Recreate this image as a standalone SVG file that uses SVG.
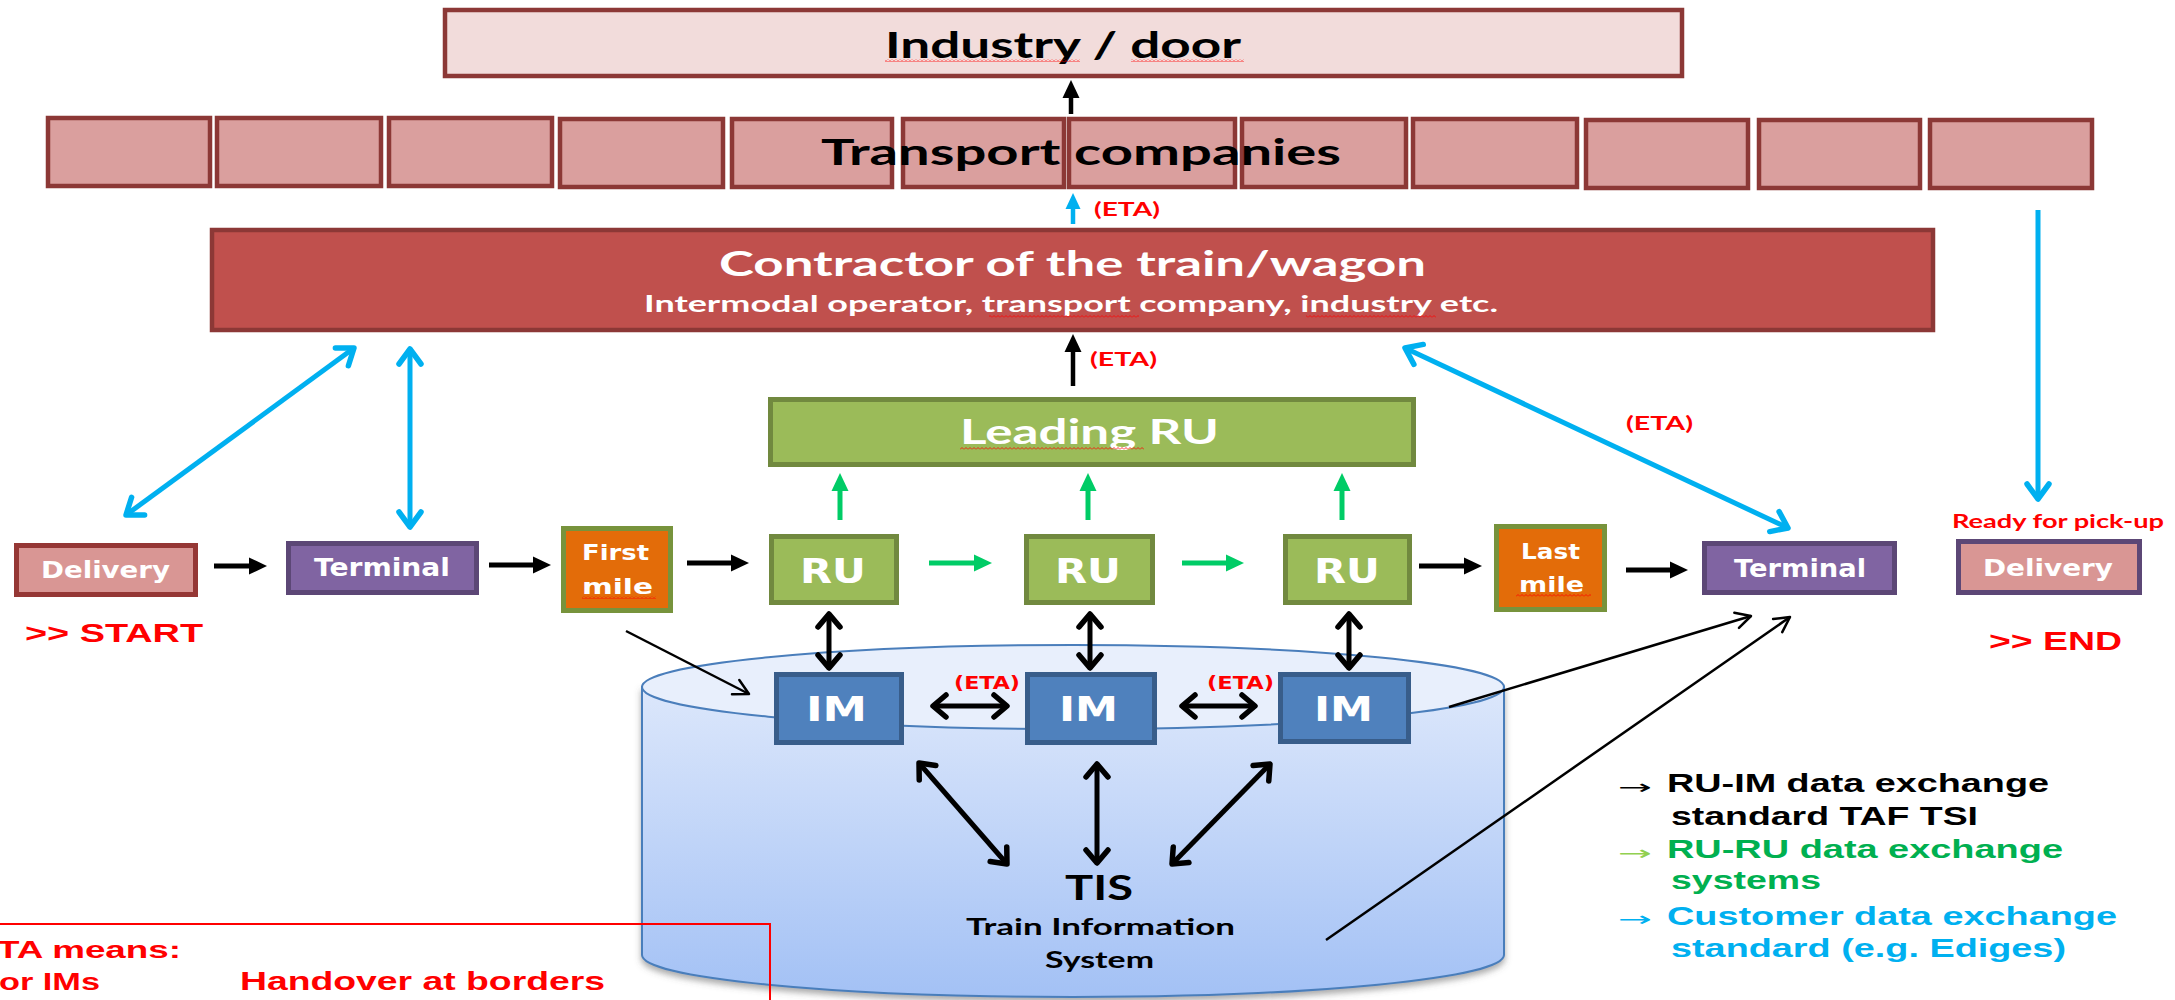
<svg xmlns="http://www.w3.org/2000/svg" width="2175" height="1000" viewBox="0 0 2175 1000">
<style>
.cal{font-family:Lato,"Open Sans","Liberation Sans",sans-serif;font-weight:bold}
.ver{font-family:"DejaVu Sans",Verdana,sans-serif;font-weight:bold}
.ari{font-family:"Liberation Sans",Arial,sans-serif;font-weight:bold}
.w{fill:#fff}
.red{fill:#FF0000}
.tp{fill:#DA9F9E;stroke:#8C3836;stroke-width:4.5}
.ru{fill:#9BBB59;stroke:#71893F;stroke-width:5}
.mile{fill:#E36C09;stroke:#77933C;stroke-width:5}
.term{fill:#8064A2;stroke:#5C4776;stroke-width:5}
.im{fill:#4F81BD;stroke:#385D8A;stroke-width:5}
.sq{fill:url(#squig)}
.thick{fill:none;stroke-width:5}
.blk{stroke:#000}
.grn{stroke:#00CC66}
.blu{stroke:#00B0F0}
.thin{fill:none;stroke:#000;stroke-width:2.5}
</style>
<defs>
<linearGradient id="cylG" x1="0" y1="687" x2="0" y2="997" gradientUnits="userSpaceOnUse">
<stop offset="0" stop-color="#DCE7FB"/>
<stop offset="1" stop-color="#A3C1F5"/>
</linearGradient>
<filter id="shadow" x="-5%" y="-5%" width="110%" height="115%">
<feDropShadow dx="0" dy="4" stdDeviation="3" flood-color="#555" flood-opacity="0.5"/>
</filter>
<pattern id="squig" width="4" height="3" patternUnits="userSpaceOnUse">
<path d="M0,2.5 L2,0.5 L4,2.5" fill="none" stroke="#FF0000" stroke-width="0.8"/>
</pattern>
<marker id="hB" markerUnits="userSpaceOnUse" orient="auto" overflow="visible" markerWidth="1" markerHeight="1"><path d="M0,-8.5 L18,0 L0,8.5 Z" fill="#000"/></marker>
<marker id="hG" markerUnits="userSpaceOnUse" orient="auto" overflow="visible" markerWidth="1" markerHeight="1"><path d="M0,-8.5 L18,0 L0,8.5 Z" fill="#00CC66"/></marker>
<marker id="hL" markerUnits="userSpaceOnUse" orient="auto" overflow="visible" markerWidth="1" markerHeight="1"><path d="M0,-7.5 L16,0 L0,7.5 Z" fill="#00B0F0"/></marker>
<marker id="cB" markerUnits="userSpaceOnUse" orient="auto-start-reverse" overflow="visible" markerWidth="1" markerHeight="1"><path d="M-13,-11 L0,0 L-13,11" fill="none" stroke="#000" stroke-width="5.5" stroke-linejoin="round" stroke-linecap="round"/></marker>
<marker id="cL" markerUnits="userSpaceOnUse" orient="auto-start-reverse" overflow="visible" markerWidth="1" markerHeight="1"><path d="M-15,-11 L0,0 L-15,11" fill="none" stroke="#00B0F0" stroke-width="5.5" stroke-linejoin="round" stroke-linecap="round"/></marker>
<marker id="cT" markerUnits="userSpaceOnUse" orient="auto" overflow="visible" markerWidth="1" markerHeight="1"><path d="M-15,-8 L0,0 L-15,8" fill="none" stroke="#000" stroke-width="2.5" stroke-linejoin="round" stroke-linecap="round"/></marker>
</defs>

<rect width="2175" height="1000" fill="#fff"/>

<!-- cylinder (TIS database) -->
<g id="tis">
<path d="M642,687 V955 A431,42 0 0 0 1504,955 V687 Z" fill="url(#cylG)" stroke="#4A7EBB" stroke-width="2" filter="url(#shadow)"/>
<ellipse cx="1073" cy="687" rx="431" ry="42" fill="#E8EFFC" stroke="#4A7EBB" stroke-width="2"/>
<text class="cal" x="1065" y="900" font-size="35" textLength="68" lengthAdjust="spacingAndGlyphs">TIS</text>
<text class="cal" x="966" y="935" font-size="22" textLength="269" lengthAdjust="spacingAndGlyphs">Train Information</text>
<text class="cal" x="1045" y="968" font-size="22" textLength="109" lengthAdjust="spacingAndGlyphs">System</text>
</g>

<g id="industry">
<rect x="445" y="10" width="1237" height="66" fill="#F2DCDB" stroke="#8C3836" stroke-width="4.5"/>
<text class="cal" x="885" y="58" font-size="37" textLength="356" lengthAdjust="spacingAndGlyphs">Industry / door</text>
<rect class="sq" x="885" y="59" width="195" height="3"/>
<rect class="sq" x="1131" y="59" width="113" height="3"/>
</g>

<g id="transport">
<rect class="tp" x="48" y="118" width="162" height="68"/>
<rect class="tp" x="217" y="118" width="164" height="68"/>
<rect class="tp" x="389" y="118" width="163" height="68"/>
<rect class="tp" x="560" y="119" width="163" height="68"/>
<rect class="tp" x="732" y="119" width="160" height="68"/>
<rect class="tp" x="903" y="119" width="161" height="68"/>
<rect class="tp" x="1069" y="119" width="166" height="68"/>
<rect class="tp" x="1242" y="119" width="164" height="68"/>
<rect class="tp" x="1413" y="119" width="164" height="68"/>
<rect class="tp" x="1586" y="120" width="162" height="68"/>
<rect class="tp" x="1759" y="120" width="161" height="68"/>
<rect class="tp" x="1930" y="120" width="162" height="68"/>
<text class="cal" x="821" y="165" font-size="36" textLength="520" lengthAdjust="spacingAndGlyphs">Transport  companies</text>
</g>

<g id="contractor">
<rect x="212" y="230" width="1721" height="100" fill="#C0504D" stroke="#8C3836" stroke-width="4.5"/>
<text class="cal w" x="719" y="276" font-size="34" textLength="707" lengthAdjust="spacingAndGlyphs">Contractor of the train/wagon</text>
<text class="cal w" x="644" y="312" font-size="22" textLength="854" lengthAdjust="spacingAndGlyphs">Intermodal operator,  transport company, industry etc.</text>
<rect class="sq" x="989" y="315" width="150" height="3"/>
<rect class="sq" x="1306" y="315" width="130" height="3"/>
</g>

<g id="leading-ru">
<rect class="ru" x="770.5" y="399.5" width="643" height="65"/>
<text class="cal w" x="960" y="444" font-size="34" textLength="259" lengthAdjust="spacingAndGlyphs">Leading RU</text>
<rect class="sq" x="960" y="447" width="184" height="3"/>
</g>

<g id="delivery-start">
<rect x="16.5" y="545.5" width="179" height="49" fill="#D99694" stroke="#953735" stroke-width="5"/>
<text class="ver w" x="41" y="578" font-size="23" textLength="129" lengthAdjust="spacingAndGlyphs">Delivery</text>
<text class="ari red" x="25" y="642" font-size="26" textLength="178" lengthAdjust="spacingAndGlyphs">&gt;&gt; START</text>
</g>

<g id="terminal-1">
<rect class="term" x="288.5" y="543.5" width="188" height="49"/>
<text class="ver w" x="314" y="576" font-size="24" textLength="136" lengthAdjust="spacingAndGlyphs">Terminal</text>
</g>

<g id="first-mile">
<rect class="mile" x="563.5" y="528.5" width="107" height="82"/>
<text class="ver w" x="582" y="560" font-size="22" textLength="67" lengthAdjust="spacingAndGlyphs">First</text>
<text class="ver w" x="582" y="594" font-size="22" textLength="71" lengthAdjust="spacingAndGlyphs">mile</text>
<rect class="sq" x="582" y="596" width="74" height="3"/>
</g>

<g id="ru-1">
<rect class="ru" x="771.5" y="536.5" width="125" height="66"/>
<text class="ver w" x="800" y="583" font-size="34" textLength="66" lengthAdjust="spacingAndGlyphs">RU</text>
</g>
<g id="ru-2">
<rect class="ru" x="1026.5" y="536.5" width="126" height="66"/>
<text class="ver w" x="1055" y="583" font-size="34" textLength="66" lengthAdjust="spacingAndGlyphs">RU</text>
</g>
<g id="ru-3">
<rect class="ru" x="1285.5" y="536.5" width="124" height="66"/>
<text class="ver w" x="1314" y="583" font-size="34" textLength="66" lengthAdjust="spacingAndGlyphs">RU</text>
</g>

<g id="last-mile">
<rect class="mile" x="1496.5" y="526.5" width="108" height="83"/>
<text class="ver w" x="1521" y="559" font-size="22" textLength="59" lengthAdjust="spacingAndGlyphs">Last</text>
<text class="ver w" x="1519" y="592" font-size="22" textLength="65" lengthAdjust="spacingAndGlyphs">mile</text>
<rect class="sq" x="1516" y="594" width="75" height="3"/>
</g>

<g id="terminal-2">
<rect class="term" x="1704.5" y="543.5" width="190" height="49"/>
<text class="ver w" x="1734" y="577" font-size="24" textLength="132" lengthAdjust="spacingAndGlyphs">Terminal</text>
</g>

<g id="delivery-end">
<text class="cal red" x="1952" y="528" font-size="18" textLength="212" lengthAdjust="spacingAndGlyphs">Ready for pick-up</text>
<rect x="1958.5" y="541.5" width="181" height="51" fill="#D99694" stroke="#5C4776" stroke-width="5"/>
<text class="ver w" x="1983" y="576" font-size="23" textLength="130" lengthAdjust="spacingAndGlyphs">Delivery</text>
<text class="ari red" x="1989" y="650" font-size="26" textLength="133" lengthAdjust="spacingAndGlyphs">&gt;&gt; END</text>
</g>

<g id="im-1">
<rect class="im" x="776.5" y="674.5" width="125" height="68"/>
<text class="ver w" x="806" y="721" font-size="34" textLength="61" lengthAdjust="spacingAndGlyphs">IM</text>
</g>
<g id="im-2">
<rect class="im" x="1027.5" y="674.5" width="127" height="68"/>
<text class="ver w" x="1059" y="721" font-size="34" textLength="59" lengthAdjust="spacingAndGlyphs">IM</text>
</g>
<g id="im-3">
<rect class="im" x="1280.5" y="674.5" width="128" height="67"/>
<text class="ver w" x="1314" y="721" font-size="34" textLength="59" lengthAdjust="spacingAndGlyphs">IM</text>
</g>

<!-- connectors -->
<g id="connectors">
<path class="thick blk" d="M214,566 H249" marker-end="url(#hB)"/>
<path class="thick blk" d="M489,565 H533" marker-end="url(#hB)"/>
<path class="thick blk" d="M687,563 H731" marker-end="url(#hB)"/>
<path class="thick blk" d="M1419,566 H1464" marker-end="url(#hB)"/>
<path class="thick blk" d="M1626,570 H1670" marker-end="url(#hB)"/>
<path class="thick grn" d="M929,563 H974" marker-end="url(#hG)"/>
<path class="thick grn" d="M1182,563 H1226" marker-end="url(#hG)"/>
<path class="thick grn" d="M840,520 V491" marker-end="url(#hG)"/>
<path class="thick grn" d="M1088,520 V491" marker-end="url(#hG)"/>
<path class="thick grn" d="M1342,520 V491" marker-end="url(#hG)"/>
<path class="blk" fill="none" stroke-width="4.5" d="M1071,114 V98" marker-end="url(#hB)"/>
<path class="blk" fill="none" stroke-width="4.5" d="M1073,386 V352" marker-end="url(#hB)"/>
<path class="blu" fill="none" stroke-width="4.5" d="M1073,224 V209" marker-end="url(#hL)"/>

<path class="thick blk" d="M829,614 V668" marker-start="url(#cB)" marker-end="url(#cB)"/>
<path class="thick blk" d="M1090,614 V668" marker-start="url(#cB)" marker-end="url(#cB)"/>
<path class="thick blk" d="M1349,614 V668" marker-start="url(#cB)" marker-end="url(#cB)"/>
<path class="thick blk" d="M933,706 H1007" marker-start="url(#cB)" marker-end="url(#cB)"/>
<path class="thick blk" d="M1182,706 H1255" marker-start="url(#cB)" marker-end="url(#cB)"/>
<path class="thick blk" d="M919,763 L1007,864" marker-start="url(#cB)" marker-end="url(#cB)"/>
<path class="thick blk" d="M1097,764 V863" marker-start="url(#cB)" marker-end="url(#cB)"/>
<path class="thick blk" d="M1270,764 L1172,864" marker-start="url(#cB)" marker-end="url(#cB)"/>

<path class="thick blu" d="M126,515 L354,348" marker-start="url(#cL)" marker-end="url(#cL)"/>
<path class="thick blu" d="M410,349 V527" marker-start="url(#cL)" marker-end="url(#cL)"/>
<path class="thick blu" d="M1405,348 L1788,528" marker-start="url(#cL)" marker-end="url(#cL)"/>
<path class="thick blu" d="M2038,210 V499" marker-end="url(#cL)"/>

<path class="thin" d="M626,631 L749,694" marker-end="url(#cT)"/>
<path class="thin" d="M1449,707 L1751,616" marker-end="url(#cT)"/>
<path class="thin" d="M1326,940 L1790,617" marker-end="url(#cT)"/>
</g>

<g id="eta-labels">
<text class="cal red" x="1094" y="216" font-size="19" textLength="66" lengthAdjust="spacingAndGlyphs">(ETA)</text>
<text class="cal red" x="1090" y="366" font-size="19" textLength="67" lengthAdjust="spacingAndGlyphs">(ETA)</text>
<text class="cal red" x="1626" y="430" font-size="19" textLength="67" lengthAdjust="spacingAndGlyphs">(ETA)</text>
<text class="ver red" x="954" y="689" font-size="17" textLength="66" lengthAdjust="spacingAndGlyphs">(ETA)</text>
<text class="ver red" x="1207" y="689" font-size="17" textLength="67" lengthAdjust="spacingAndGlyphs">(ETA)</text>
</g>

<g id="legend">
<text x="1618" y="794" font-family="DejaVu Sans,sans-serif" font-size="20" fill="#000" textLength="34" lengthAdjust="spacingAndGlyphs">→</text>
<text class="ari" x="1667" y="792" font-size="26" fill="#000" textLength="382" lengthAdjust="spacingAndGlyphs">RU-IM data exchange</text>
<text class="ari" x="1671" y="825" font-size="26" fill="#000" textLength="307" lengthAdjust="spacingAndGlyphs">standard TAF TSI</text>
<text x="1618" y="860" font-family="DejaVu Sans,sans-serif" font-size="20" fill="#92D050" textLength="34" lengthAdjust="spacingAndGlyphs">→</text>
<text class="ari" x="1667" y="858" font-size="26" fill="#00B050" textLength="396" lengthAdjust="spacingAndGlyphs">RU-RU data exchange</text>
<text class="ari" x="1671" y="889" font-size="26" fill="#00B050" textLength="150" lengthAdjust="spacingAndGlyphs">systems</text>
<text x="1618" y="926" font-family="DejaVu Sans,sans-serif" font-size="20" fill="#00B0F0" textLength="34" lengthAdjust="spacingAndGlyphs">→</text>
<text class="ari" x="1667" y="925" font-size="26" fill="#00B0F0" textLength="450" lengthAdjust="spacingAndGlyphs">Customer data exchange</text>
<text class="ari" x="1671" y="957" font-size="26" fill="#00B0F0" textLength="395" lengthAdjust="spacingAndGlyphs">standard (e.g. Ediges)</text>
</g>

<g id="eta-note">
<path d="M0,924 H770 V1000" fill="none" stroke="#FF0000" stroke-width="2"/>
<text class="ari red" x="-3" y="958" font-size="24" textLength="184" lengthAdjust="spacingAndGlyphs">TA means:</text>
<text class="ari red" x="-1" y="990" font-size="24" textLength="101" lengthAdjust="spacingAndGlyphs">or IMs</text>
<text class="ari red" x="240" y="990" font-size="25" textLength="365" lengthAdjust="spacingAndGlyphs">Handover at borders</text>
</g>
</svg>
